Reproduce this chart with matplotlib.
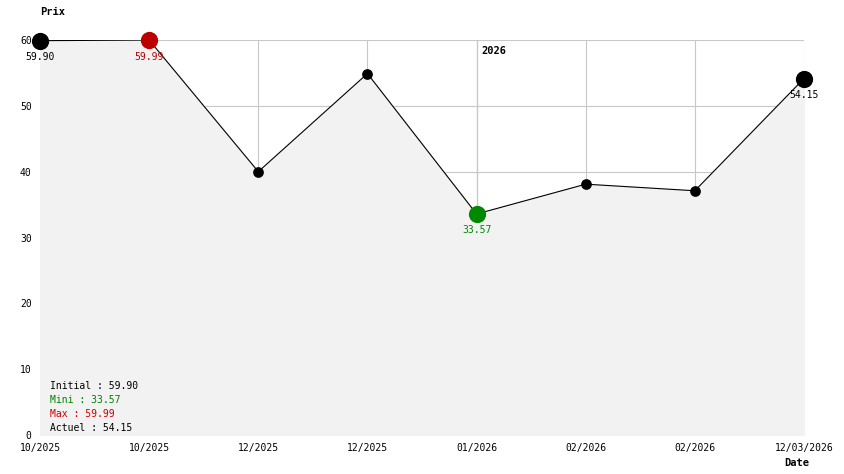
import matplotlib
matplotlib.use("Agg")
import matplotlib.pyplot as plt

dates = ["10/2025", "10/2025", "12/2025", "12/2025", "01/2026", "02/2026", "02/2026", "12/03/2026"]
prices = [59.90, 59.99, 40.0, 54.9, 33.57, 38.1, 37.1, 54.15]
yticks = [0, 10, 20, 30, 40, 50, 60]
summary = [("Initial : 59.90", "black"), ("Mini : 33.57", "green"),
           ("Max : 59.99", "#cc0000"), ("Actuel : 54.15", "black")]

plt.rcParams["font.family"] = "DejaVu Sans Mono"
fig = plt.figure(figsize=(8.44, 4.74), dpi=100)
ax = fig.add_axes([40 / 844, 1 - 435 / 474, 764 / 844, 395 / 474])
x = list(range(len(prices)))

ax.set_axisbelow(True)
ax.fill_between(x, prices, 0, color="#f2f2f2", zorder=1)
ax.plot(x, prices, color="black", lw=0.8, zorder=2)
ax.scatter(x[2:-1], prices[2:-1], s=45, color="black", zorder=3, clip_on=False)
ax.scatter([0, 7], [prices[0], prices[7]], s=130, color="black", zorder=3, clip_on=False)
ax.scatter([1], [prices[1]], s=130, color="#bb0000", zorder=3, clip_on=False)
ax.scatter([4], [prices[4]], s=130, color="#008800", zorder=3, clip_on=False)

ax.set_xlim(0, 7)
ax.set_ylim(0, 60)
ax.set_xticks(x)
ax.set_xticklabels(dates)
ax.set_yticks(yticks)
ax.tick_params(labelsize=7, length=0, pad=6)
ax.grid(True, color="#c8c8c8", lw=0.8, zorder=0)
ax.axvline(4, color="#888888", lw=0.8, zorder=0.5)
for s in ax.spines.values():
    s.set_visible(False)

ax.text(4.04, 58.3, "2026", fontsize=7.5, fontweight="bold", va="center")
ax.annotate("59.90", (0, prices[0]), xytext=(0, -14), textcoords="offset points", ha="center", fontsize=7)
ax.annotate("59.99", (1, prices[1]), xytext=(0, -14), textcoords="offset points", ha="center", fontsize=7, color="#bb0000")
ax.annotate("33.57", (4, prices[4]), xytext=(0, -14), textcoords="offset points", ha="center", fontsize=7, color="#008800")
ax.annotate("54.15", (7, prices[7]), xytext=(0, -14), textcoords="offset points", ha="center", fontsize=7)

for i, (t, c) in enumerate(summary):
    fig.text(50 / 844, 1 - (386 + i * 14) / 474, t, fontsize=7, color=c, va="center")
fig.text(40 / 844, 1 - 12 / 474, "Prix", fontsize=7.5, fontweight="bold", va="center")
fig.text(784 / 844, 1 - 463 / 474, "Date", fontsize=7.5, fontweight="bold", va="center")

fig.savefig("out.png", dpi=100)
